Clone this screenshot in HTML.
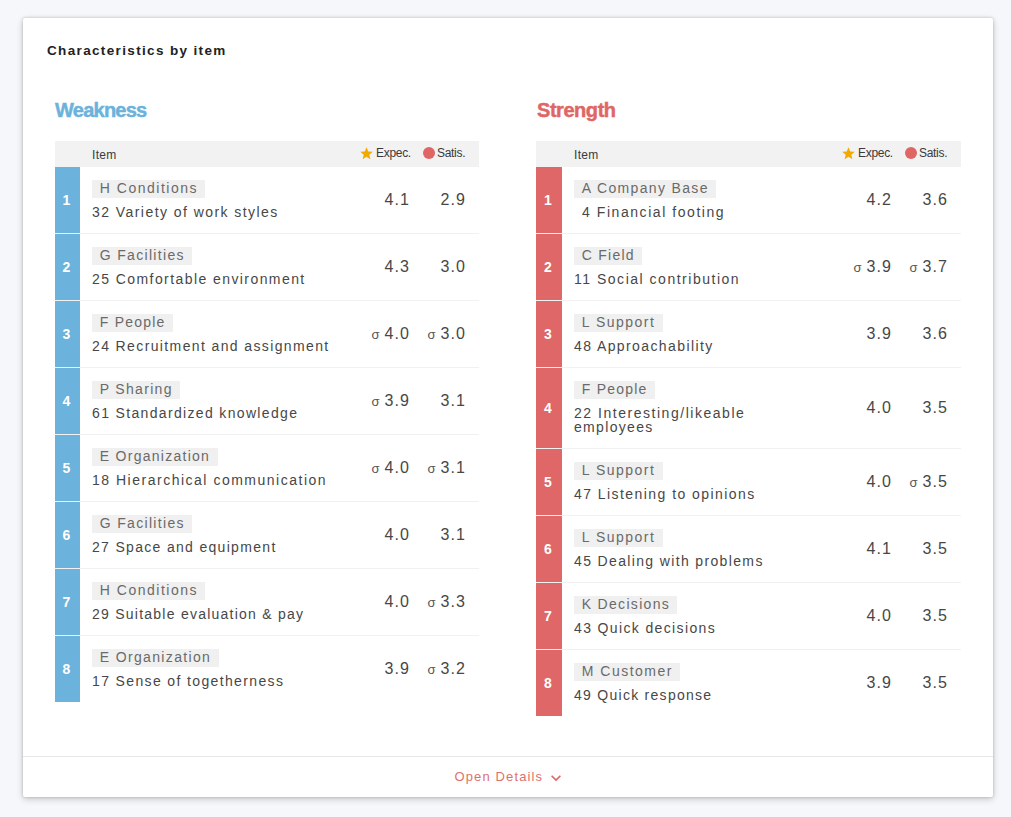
<!DOCTYPE html>
<html><head><meta charset="utf-8"><title>Characteristics by item</title>
<style>
html,body{margin:0;padding:0}
body{width:1011px;height:817px;background:#f5f7fb;font-family:"Liberation Sans",sans-serif;position:relative;overflow:hidden}
.card{position:absolute;left:23px;top:18px;width:970px;height:779px;background:#fff;border-radius:2px;box-shadow:0 0 3px rgba(0,0,0,.18),0 2px 7px rgba(0,0,0,.2)}
.title{position:absolute;left:24px;top:25px;font-size:13.5px;line-height:16px;font-weight:700;letter-spacing:1.35px;color:#222;white-space:nowrap}
.sec{position:absolute;top:123px;width:424px;height:600px}
.h2{position:absolute;left:0;top:-42px;font-size:20px;line-height:22px;font-weight:700;letter-spacing:-0.75px;white-space:nowrap;-webkit-text-stroke:0.45px currentColor}
.weak .h2{color:#6bb2dc}
.str .h2{color:#e06666}
.thead{position:absolute;left:0;top:0;width:424px;height:26px;background:#f2f2f2;color:#3a3a3a;font-size:12px}
.thead span{position:absolute;white-space:nowrap;line-height:14px}
.th-item{left:37px;top:7px;letter-spacing:0.3px}
.star{left:304px;top:4.5px;width:15px;height:15px}
.star svg{display:block;width:15px;height:15px}
.th-exp{left:321px;top:5px;letter-spacing:-0.3px}
.dot{left:368px;top:6px;width:12px;height:12px;border-radius:50%;background:#e06666}
.th-sat{left:382px;top:5px;letter-spacing:-0.3px}
.row{position:absolute;left:0;width:424px;border-bottom:1px solid #f1f1f1}
.row.last{border-bottom:none}
.num{position:absolute;left:0;top:0;width:25px;height:100%;color:#fff;font-size:14px;font-weight:700;box-sizing:border-box;padding-right:2px;display:flex;align-items:center;justify-content:center}
.weak .num{background:#6bb2dc}
.str .num{background:#df6767}
.tag{position:absolute;left:37px;top:13px;height:17px;line-height:17px;padding-bottom:1px !important;padding:0 7.4px 0 7.8px;background:#f0f0f0;color:#6a6a6a;font-size:14px;letter-spacing:1.5px;white-space:nowrap}
.name{position:absolute;left:37px;top:38px;font-size:14px;line-height:14px;letter-spacing:1.4px;color:#474747;white-space:nowrap}
.ind{padding-left:8px}
.val{position:absolute;font-size:16px;line-height:16px;letter-spacing:1.1px;color:#474747;text-align:right;white-space:nowrap}
.val i{font-style:normal;font-size:13px;letter-spacing:0;color:#555;margin-right:5px}
.v1{right:69px}
.v2{right:13px}
.foot{position:absolute;left:0;top:738px;width:970px;height:41px;border-top:1px solid #e8e8e8}
.open{position:absolute;left:431.5px;top:12px;font-size:13px;line-height:16px;letter-spacing:1.13px;color:#e07070;white-space:nowrap}
.chev{position:absolute;left:522.6px;top:10.8px}

.str .thead{left:-1px;width:425px}
.str .num{width:26px}
.str .row{left:-1px;width:425px}
.str .row .tag,.str .row .name{margin-left:1px}
.str .thead span{margin-left:1px}
.str .h2{letter-spacing:-0.45px}

</style></head><body>
<div class="card">
<div class="title">Characteristics by item</div>
<div class='sec weak' style='left:32px'>
<div class='h2'>Weakness</div>
<div class='thead'><span class='th-item'>Item</span><span class='star'><svg width='12' height='12' viewBox='0 0 24 24'><path d='M12 17.27L18.18 21l-1.64-7.03L22 9.24l-7.19-.61L12 2 9.19 8.63 2 9.24l5.46 4.73L5.82 21z' fill='#f2a900'/></svg></span><span class='th-exp'>Expec.</span><span class='dot'></span><span class='th-sat'>Satis.</span></div>
<div class='row' style='top:26px;height:66px'><div class='num'><span>1</span></div><div class='tag' style='letter-spacing:1.5px'>H Conditions</div><div class='name' style='letter-spacing:1.4416666666666664px'>32 Variety of work styles</div><div class='val v1' style='top:25.0px'>4.1</div><div class='val v2' style='top:25.0px'>2.9</div></div>
<div class='row' style='top:93px;height:66px'><div class='num'><span>2</span></div><div class='tag' style='letter-spacing:1.3181818181818181px'>G Facilities</div><div class='name' style='letter-spacing:1.4239999999999964px'>25 Comfortable environment</div><div class='val v1' style='top:25.0px'>4.3</div><div class='val v2' style='top:25.0px'>3.0</div></div>
<div class='row' style='top:160px;height:66px'><div class='num'><span>3</span></div><div class='tag' style='letter-spacing:1.2142857142857144px'>F People</div><div class='name' style='letter-spacing:1.3785714285714314px'>24 Recruitment and assignment</div><div class='val v1' style='top:25.0px'><i>σ</i>4.0</div><div class='val v2' style='top:25.0px'><i>σ</i>3.0</div></div>
<div class='row' style='top:227px;height:66px'><div class='num'><span>4</span></div><div class='tag' style='letter-spacing:1.2999999999999972px'>P Sharing</div><div class='name' style='letter-spacing:1.3416666666666626px'>61 Standardized knowledge</div><div class='val v1' style='top:25.0px'><i>σ</i>3.9</div><div class='val v2' style='top:25.0px'>3.1</div></div>
<div class='row' style='top:294px;height:66px'><div class='num'><span>5</span></div><div class='tag' style='letter-spacing:1.2692307692307694px'>E Organization</div><div class='name' style='letter-spacing:1.5071428571428571px'>18 Hierarchical communication</div><div class='val v1' style='top:25.0px'><i>σ</i>4.0</div><div class='val v2' style='top:25.0px'><i>σ</i>3.1</div></div>
<div class='row' style='top:361px;height:66px'><div class='num'><span>6</span></div><div class='tag' style='letter-spacing:1.3181818181818181px'>G Facilities</div><div class='name' style='letter-spacing:1.3142857142857165px'>27 Space and equipment</div><div class='val v1' style='top:25.0px'>4.0</div><div class='val v2' style='top:25.0px'>3.1</div></div>
<div class='row' style='top:428px;height:66px'><div class='num'><span>7</span></div><div class='tag' style='letter-spacing:1.5px'>H Conditions</div><div class='name' style='letter-spacing:1.2444444444444427px'>29 Suitable evaluation &amp; pay</div><div class='val v1' style='top:25.0px'>4.0</div><div class='val v2' style='top:25.0px'><i>σ</i>3.3</div></div>
<div class='row last' style='top:495px;height:66px'><div class='num'><span>8</span></div><div class='tag' style='letter-spacing:1.346153846153846px'>E Organization</div><div class='name' style='letter-spacing:1.3652173913043497px'>17 Sense of togetherness</div><div class='val v1' style='top:25.0px'>3.9</div><div class='val v2' style='top:25.0px'><i>σ</i>3.2</div></div>
</div>
<div class='sec str' style='left:514px'>
<div class='h2'>Strength</div>
<div class='thead'><span class='th-item'>Item</span><span class='star'><svg width='12' height='12' viewBox='0 0 24 24'><path d='M12 17.27L18.18 21l-1.64-7.03L22 9.24l-7.19-.61L12 2 9.19 8.63 2 9.24l5.46 4.73L5.82 21z' fill='#f2a900'/></svg></span><span class='th-exp'>Expec.</span><span class='dot'></span><span class='th-sat'>Satis.</span></div>
<div class='row' style='top:26px;height:66px'><div class='num'><span>1</span></div><div class='tag' style='letter-spacing:1.3461538461538463px'>A Company Base</div><div class='name' style='letter-spacing:1.5555555555555656px'><span class='ind'>4 Financial footing</span></div><div class='val v1' style='top:25.0px'>4.2</div><div class='val v2' style='top:25.0px'>3.6</div></div>
<div class='row' style='top:93px;height:66px'><div class='num'><span>2</span></div><div class='tag' style='letter-spacing:1.2333333333333487px'>C Field</div><div class='name' style='letter-spacing:1.5142857142857187px'>11 Social contribution</div><div class='val v1' style='top:25.0px'><i>σ</i>3.9</div><div class='val v2' style='top:25.0px'><i>σ</i>3.7</div></div>
<div class='row' style='top:160px;height:66px'><div class='num'><span>3</span></div><div class='tag' style='letter-spacing:1.4750000000000227px'>L Support</div><div class='name' style='letter-spacing:1.4px'>48 Approachability</div><div class='val v1' style='top:25.0px'>3.9</div><div class='val v2' style='top:25.0px'>3.6</div></div>
<div class='row' style='top:227px;height:80px'><div class='num'><span>4</span></div><div class='tag' style='letter-spacing:1.2142857142857144px'>F People</div><div class='name' style='letter-spacing:1.5272727272727353px'><span style='letter-spacing:1.5272727272727353px'>22 Interesting/likeable</span><br><span style='letter-spacing:1.3250000000000113px'>employees</span></div><div class='val v1' style='top:32.0px'>4.0</div><div class='val v2' style='top:32.0px'>3.5</div></div>
<div class='row' style='top:308px;height:66px'><div class='num'><span>5</span></div><div class='tag' style='letter-spacing:1.4750000000000227px'>L Support</div><div class='name' style='letter-spacing:1.443478260869565px'>47 Listening to opinions</div><div class='val v1' style='top:25.0px'>4.0</div><div class='val v2' style='top:25.0px'><i>σ</i>3.5</div></div>
<div class='row' style='top:375px;height:66px'><div class='num'><span>6</span></div><div class='tag' style='letter-spacing:1.4750000000000227px'>L Support</div><div class='name' style='letter-spacing:1.3565217391304347px'>45 Dealing with problems</div><div class='val v1' style='top:25.0px'>4.1</div><div class='val v2' style='top:25.0px'>3.5</div></div>
<div class='row' style='top:442px;height:66px'><div class='num'><span>7</span></div><div class='tag' style='letter-spacing:1.3px'>K Decisions</div><div class='name' style='letter-spacing:1.3647058823529468px'>43 Quick decisions</div><div class='val v1' style='top:25.0px'>4.0</div><div class='val v2' style='top:25.0px'>3.5</div></div>
<div class='row last' style='top:509px;height:66px'><div class='num'><span>8</span></div><div class='tag' style='letter-spacing:1.4777777777777983px'>M Customer</div><div class='name' style='letter-spacing:1.275px'>49 Quick response</div><div class='val v1' style='top:25.0px'>3.9</div><div class='val v2' style='top:25.0px'>3.5</div></div>
</div>
<div class="foot"><span class="open">Open Details</span><svg class="chev" width="20" height="20" viewBox="0 0 24 24"><path d="M16.59 8.59L12 13.17 7.41 8.59 6 10l6 6 6-6z" fill="#de6464"/></svg></div>
</div>
</body></html>
